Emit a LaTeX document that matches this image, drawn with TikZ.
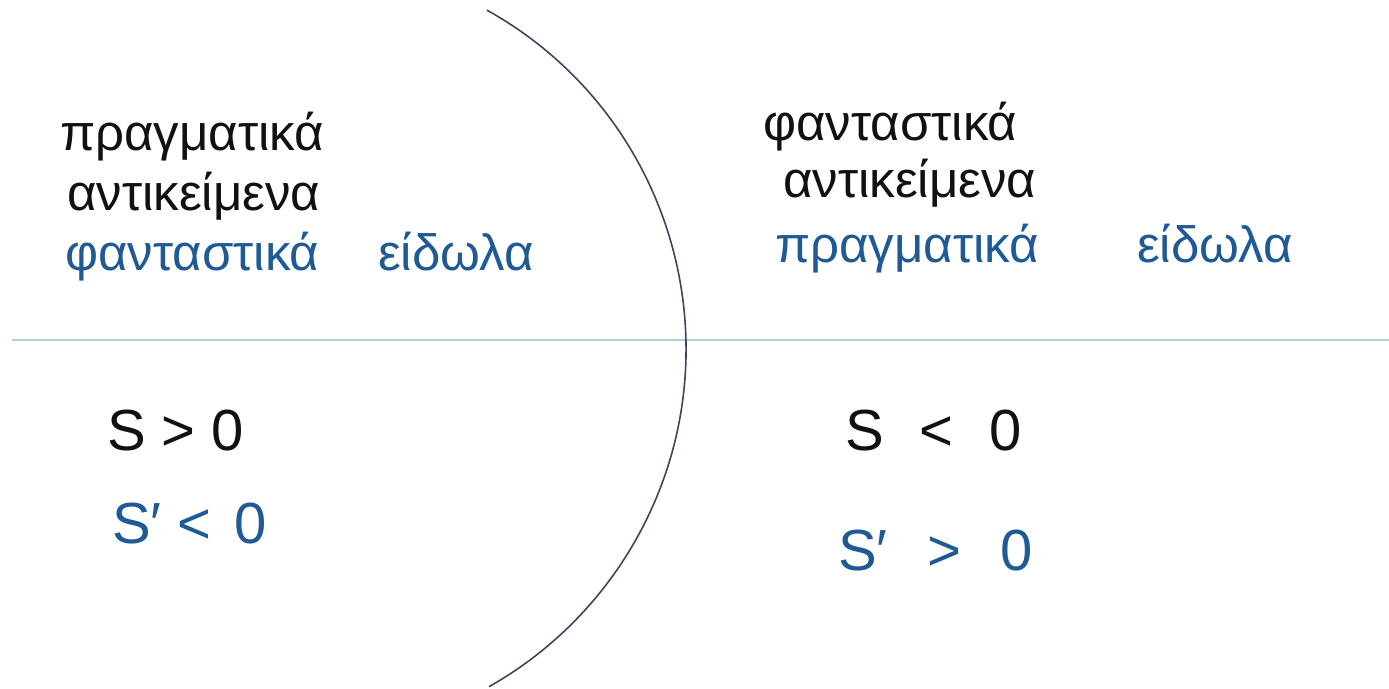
\documentclass[tikz,border=0pt]{standalone}
\usepackage{fontspec}
\setmainfont{Liberation Sans}
\usetikzlibrary{positioning}
\definecolor{ink}{HTML}{111111}
\definecolor{pen}{HTML}{1F5A96}
\definecolor{mirror}{HTML}{3D4461}
\definecolor{axisc}{HTML}{A9D3DA}
\tikzset{note/.style={anchor=base west,inner sep=0pt,font=\fontsize{51}{60}\selectfont},
         obj/.style={note,text=ink},
         img/.style={note,text=pen},
         sgn/.style={anchor=base west,inner sep=0pt,font=\fontsize{58}{66}\selectfont},
         lens/.style={mirror,line width=1.6pt},
         optax/.style={axisc,line width=1.2pt}}

\begin{document}
\begin{tikzpicture}[x=1pt,y=-1pt]
 \useasboundingbox (0,0) rectangle (1389,688);
 % optical axis and mirror
 \coordinate (axl) at (12,340); \coordinate (axr) at (1389,340);
 \draw[optax] (axl) -- (axr);
 \coordinate (cc) at (298,349);
 \draw[lens] (cc) ++(-60.86:388) arc[start angle=-60.86,end angle=60.5,radius=388];
 % left side
 \node[obj] (lob1) at (60,150) {πραγματικά};
 \node[obj] (lob2) at (67,210) {αντικείμενα};
 \node[img] (lim1) at (65,270) {φανταστικά};
 \node[img] (lim2) at (378,270) {είδωλα};
 \node[sgn,text=ink] (ls) at (107,450) {S > 0};
 \node[sgn,text=pen] (lsp) at (112,543) {S′ <\hspace{7pt} 0};
 % right side
 \node[obj] (rob1) at (763,140) {φανταστικά};
 \node[obj] (rob2) at (783,197) {αντικείμενα};
 \node[img] (rim1) at (775,262) {πραγματικά};
 \node[img] (rim2) at (1137,262) {είδωλα};
 \node[sgn,text=ink] (rs) at (845,450) {S\hspace{20pt} <\hspace{20pt} 0};
 \node[sgn,text=pen] (rsp) at (838,570) {S′\hspace{24pt} >\hspace{23pt} 0};
\end{tikzpicture}
\end{document}
